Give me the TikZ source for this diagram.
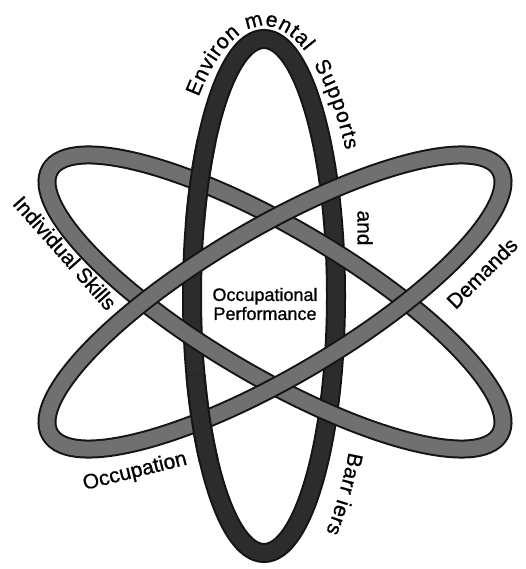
\documentclass[tikz,border=0pt]{standalone}
\usepackage{fontspec}
\setmainfont{Liberation Sans}
\newfontfamily\inkfont[FakeBold=0.9]{Liberation Sans}
\usetikzlibrary{decorations.text}
\definecolor{vdark}{RGB}{44,44,44}
\definecolor{tgray}{RGB}{112,112,112}
\definecolor{edgec}{RGB}{20,20,20}
\newcommand\lblfont{\inkfont\fontsize{21}{21}\selectfont}
\newcommand\ctrfont{\inkfont\fontsize{18}{19}\selectfont}
\begin{document}
\begin{tikzpicture}[x=1pt,y=1pt,
  vedge/.style={draw=edgec, line width=20pt},
  vcore/.style={draw=vdark, line width=16pt},
  tedge/.style={draw=edgec, line width=19pt},
  tcore/.style={draw=tgray, line width=15pt},
  lbl/.style={font=\lblfont, inner sep=0pt}
]
\fill[white] (0,0) rectangle (525,569);
\useasboundingbox (0,0) rectangle (525,569);

% vertical orbit
\begin{scope}[shift={(264,273)}]
\draw[vedge] (0,0) ellipse [x radius=72, y radius=257];
\draw[vcore] (0,0) ellipse [x radius=72, y radius=257];
\end{scope}

% tilted orbit A (upper-left to lower-right)
\begin{scope}[shift={(275,267)}, rotate=-30.5]
\draw[tedge] (0,0) ellipse [x radius=261, y radius=74];
\draw[tcore] (0,0) ellipse [x radius=261, y radius=74];
\end{scope}

% tilted orbit B (lower-left to upper-right)
\begin{scope}[shift={(275,267)}, rotate=30.5]
\draw[tedge] (0,0) ellipse [x radius=261, y radius=74];
\draw[tcore] (0,0) ellipse [x radius=261, y radius=74];
\end{scope}

% vertical orbit passing over at the left crossings
\begin{scope}[shift={(264,273)}]
\draw[vedge] (143:72 and 257) arc [start angle=143, end angle=164, x radius=72, y radius=257];
\draw[vcore] (143:72 and 257) arc [start angle=143, end angle=164, x radius=72, y radius=257];
\draw[vedge] (198:72 and 257) arc [start angle=198, end angle=220, x radius=72, y radius=257];
\draw[vcore] (198:72 and 257) arc [start angle=198, end angle=220, x radius=72, y radius=257];
\end{scope}

% curved labels
\path[decorate, decoration={text along path, text align={fit to path}, text={|\lblfont|Environ mental}}]
  ([shift={(264,273)}]132.5:97 and 270) arc [start angle=132.5, end angle=65, x radius=97, y radius=270];
\path[decorate, decoration={text along path, text align={fit to path}, text={|\lblfont|Supports}}]
  ([shift={(264,273)}]59.2:97 and 270) arc [start angle=59.2, end angle=32.7, x radius=97, y radius=270];
\path[decorate, decoration={text along path, text align={fit to path}, text={|\lblfont|Barr iers}}]
  ([shift={(264,273)}]-31:99 and 303) arc [start angle=-31, end angle=-51.2, x radius=99, y radius=303];

% straight labels
\node[lbl, rotate=-90] (and) at (365,341) {and};
\node[lbl, rotate=45] (dem) at (482,296) {Demands};
\node[lbl, rotate=-48.5] (ind) at (65,316) {Individual Skills};
\node[lbl, rotate=14] (occ) at (135,97) {Occupation};
\node[font=\ctrfont, align=center, inner sep=0pt] (op) at (265,265) {Occupational\\Performance};
\end{tikzpicture}
\end{document}
